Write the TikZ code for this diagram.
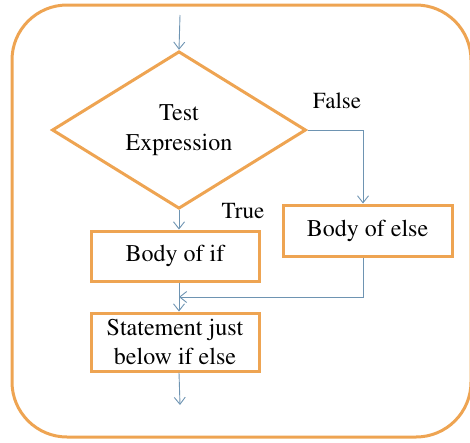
\documentclass[tikz,border=0pt]{standalone}
\usepackage[T1]{fontenc}
\usepackage{mathptmx}
\usetikzlibrary{shapes.geometric,arrows.meta}
\definecolor{frameorange}{RGB}{238,164,82}
\definecolor{flowblue}{RGB}{110,148,178}
\tikzset{
  outline/.style={draw=frameorange, line width=3pt},
  procbox/.style={outline, rectangle, inner sep=0pt, align=center, font=\rmfamily\fontsize{24}{29}\selectfont},
  decision/.style={outline, diamond, inner sep=0pt, align=center, font=\rmfamily\fontsize{24}{30}\selectfont},
  flow/.style={draw=flowblue, line width=0.9pt, -{Straight Barb[length=7pt,width=11pt]}},
  edgelabel/.style={font=\rmfamily\fontsize{23}{26}\selectfont, inner sep=0pt}
}
\begin{document}
\begin{tikzpicture}[x=1pt,y=-1pt]
  \useasboundingbox (0,0) rectangle (470,442);
  % outer frame
  \draw[outline, rounded corners=55pt] (12,5) rectangle (471,437);

  % flowchart nodes
  \node[decision, minimum width=254pt, minimum height=132pt] (test) at (179,130) {Test\\Expression};
  \node[procbox, minimum width=168pt, minimum height=50pt] (bodyif) at (175,256) {Body of if};
  \node[procbox, minimum width=169pt, minimum height=51pt] (bodyelse) at (367.5,230.5) {Body of else};
  \node[procbox, minimum width=168pt, minimum height=58pt] (stmt) at (175,342) {Statement just\\below if else};

  \coordinate (entry) at (180,15);
  \coordinate (join) at (363,297);
  \coordinate (exit) at (180,405);

  % connectors
  \draw[flow] (entry) -- (test.north);
  \draw[flow] (test.east) -| (bodyelse.north -| join);
  \draw[flow] (test.south) -- (bodyif.north -| test.south);
  \draw[flow] (bodyif.south -| test.south) -- (stmt.north -| test.south);
  \draw[flow] (bodyelse.south -| join) -- (join) -- (join -| test.south);
  \draw[flow] (stmt.south -| test.south) -- (exit);

  % branch labels
  \node[edgelabel] (falselbl) at (337,101) {False};
  \node[edgelabel] (truelbl) at (243,211) {True};
\end{tikzpicture}
\end{document}
